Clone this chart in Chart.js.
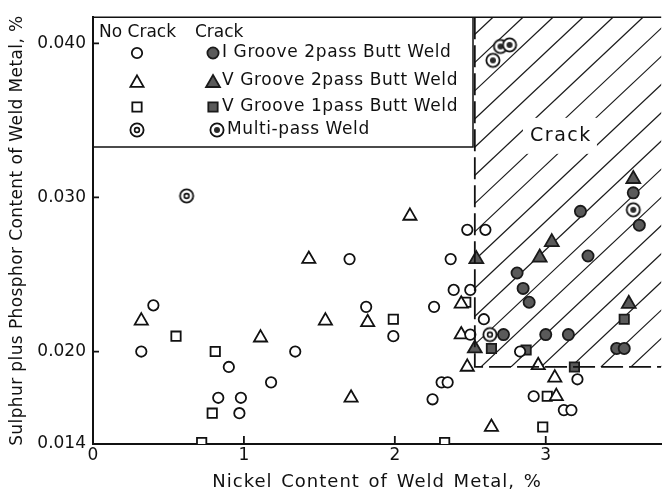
<!DOCTYPE html>
<html>
<head>
<meta charset="utf-8">
<script src="https://cdn.jsdelivr.net/npm/chart.js@4/dist/chart.umd.min.js"></script>
<style>
  html, body { margin: 0; padding: 0; background: #fff; }
  #wrap { width: 671px; height: 501px; }
</style>
</head>
<body>
<div id="wrap"><canvas id="chart" width="671" height="501"></canvas></div>
<script>
// [Ni %, S+P %]
const noCrackIGroove = [
  [0.40, 0.0230], [0.32, 0.0200], [0.90, 0.0190], [1.18, 0.0180], [0.83, 0.0170],
  [0.98, 0.0170], [0.97, 0.0160], [2.48, 0.0279], [2.60, 0.0279], [1.70, 0.0260],
  [2.37, 0.0260], [2.39, 0.0240], [2.50, 0.0240], [2.26, 0.0229], [1.81, 0.0229],
  [1.99, 0.0210], [1.34, 0.0200], [2.59, 0.0221], [2.50, 0.0211], [2.83, 0.0200],
  [2.31, 0.0180], [2.35, 0.0180], [2.25, 0.0169], [3.21, 0.0182], [2.92, 0.0171],
  [3.12, 0.0162], [3.17, 0.0162]
];
const noCrackV2pass = [
  [0.32, 0.0220], [1.11, 0.0209], [2.10, 0.0288], [1.43, 0.0260], [2.44, 0.0231],
  [1.82, 0.0219], [1.54, 0.0220], [1.71, 0.0170], [2.44, 0.0211], [2.48, 0.0190],
  [2.95, 0.0191], [3.06, 0.0183], [3.07, 0.0171], [2.64, 0.0151]
];
const noCrackV1pass = [
  [0.55, 0.0210], [0.81, 0.0200], [0.79, 0.0160], [0.72, 0.0141], [1.99, 0.0221],
  [2.47, 0.0232], [3.01, 0.0171], [2.98, 0.0151], [2.33, 0.0141]
];
const noCrackMulti = [[0.62, 0.0301], [2.63, 0.0211]];

const crackIGroove = [
  [2.72, 0.0211], [3.00, 0.0211], [3.15, 0.0211], [2.89, 0.0232], [3.47, 0.0202],
  [3.52, 0.0202], [3.58, 0.0303], [3.62, 0.0282], [3.23, 0.0291], [3.28, 0.0262],
  [2.81, 0.0251], [2.85, 0.0241]
];
const crackV2pass = [
  [2.54, 0.0260], [3.04, 0.0271], [2.96, 0.0261], [3.58, 0.0312], [3.55, 0.0231], [2.53, 0.0202]
];
const crackV1pass = [[2.64, 0.0202], [2.87, 0.0201], [3.52, 0.0221], [3.19, 0.0190]];
const crackMulti = [[3.58, 0.0292], [2.65, 0.0389], [2.70, 0.0398], [2.76, 0.0399]];

// crack region boundary
const crackNi = 2.53;
const crackSP = 0.019;

const xTicks = [0, 1, 2, 3];
const yTicks = [0.014, 0.020, 0.030, 0.040];
const xRange = [0, 3.765];
const yRange = [0.014, 0.0417];

const legendRows = ['I Groove 2pass Butt Weld', 'V Groove 2pass Butt Weld', 'V Groove 1pass Butt Weld', 'Multi-pass Weld'];

const FONT = 'DejaVu Sans';
const INK = '#111';
const GREY = '#5a5a5a';

function ringIcon(filled) {
  const c = document.createElement('canvas');
  c.width = c.height = 18;
  const g = c.getContext('2d');
  g.strokeStyle = INK;
  g.fillStyle = '#fff';
  g.lineWidth = 1.8;
  g.beginPath(); g.arc(9, 9, 6.6, 0, Math.PI * 2); g.fill(); g.stroke();
  g.beginPath();
  if (filled) {
    g.fillStyle = '#2a2a2a';
    g.arc(9, 9, 3, 0, Math.PI * 2); g.fill();
  } else {
    g.lineWidth = 1.6;
    g.arc(9, 9, 2.4, 0, Math.PI * 2); g.stroke();
  }
  return c;
}
const openRing = ringIcon(false);
const fullRing = ringIcon(true);

const toXY = arr => arr.map(([x, y]) => ({ x, y }));

function pts(data, style, radius, filled) {
  return {
    type: 'scatter',
    data: toXY(data),
    pointStyle: style,
    pointRadius: radius,
    pointHoverRadius: radius,
    pointBorderWidth: 1.8,
    pointBorderColor: filled ? '#1a1a1a' : INK,
    pointBackgroundColor: filled ? GREY : '#fff',
    clip: 0,
  };
}

function drawMark(ctx, style, x, y, r, filled) {
  ctx.save();
  ctx.lineWidth = 1.8;
  ctx.strokeStyle = filled ? '#1a1a1a' : INK;
  ctx.fillStyle = filled ? GREY : '#fff';
  ctx.beginPath();
  if (style === 'circle') {
    ctx.arc(x, y, r, 0, Math.PI * 2);
  } else if (style === 'triangle') {
    for (let i = 0; i < 3; i++) {
      const a = i * 2 * Math.PI / 3;
      const px = x + Math.sin(a) * r, py = y - Math.cos(a) * r;
      i ? ctx.lineTo(px, py) : ctx.moveTo(px, py);
    }
    ctx.closePath();
  } else if (style === 'rect') {
    const s = r * Math.SQRT1_2;
    ctx.rect(x - s, y - s, 2 * s, 2 * s);
  }
  ctx.fill(); ctx.stroke();
  ctx.restore();
}

// the printed figure uses loosely spaced lettering for the axis titles
function spaced(fn, letter, word) {
  return function () {
    const c = this.ctx;
    c.save();
    c.letterSpacing = letter;
    c.wordSpacing = word;
    fn.apply(this, arguments);
    c.restore();
  };
}

const decor = {
  id: 'decor',
  beforeDraw(chart) {
    const { x, y } = chart.scales;
    if (!x.__spaced) { x.drawTitle = spaced(x.drawTitle, '1px', '2px'); x.__spaced = true; }
    if (!y.__spaced) { y.drawTitle = spaced(y.drawTitle, '0.4px', '0px'); y.__spaced = true; }
  },
  beforeDatasetsDraw(chart) {
    const { ctx, chartArea: a, scales: { x, y } } = chart;
    const bx = x.getPixelForValue(crackNi);
    const by = y.getPixelForValue(crackSP);

    // hatching of the crack region
    ctx.save();
    ctx.beginPath();
    ctx.rect(bx, a.top, a.right - bx, by - a.top);
    ctx.clip();
    ctx.strokeStyle = '#1a1a1a';
    ctx.lineWidth = 1.2;
    const h = by - a.top, run = h / 0.94;
    for (let sx = 493 - 600; sx < a.right + run + 30; sx += 30) {
      ctx.beginPath();
      ctx.moveTo(sx, a.top);
      ctx.lineTo(sx - run, by);
      ctx.stroke();
    }
    ctx.restore();

    // "Crack" label on a white patch
    ctx.save();
    const cx = x.getPixelForValue(3.094), cy = y.getPixelForValue(0.0340);
    ctx.fillStyle = '#fff';
    ctx.fillRect(cx - 37, cy - 18, 74, 36);
    ctx.fillStyle = INK;
    ctx.font = `19px "${FONT}"`;
    ctx.letterSpacing = '1.5px';
    ctx.textAlign = 'center';
    ctx.textBaseline = 'middle';
    ctx.fillText('Crack', cx + 1, cy);
    ctx.restore();

    // legend box
    ctx.save();
    ctx.fillStyle = '#fff';
    ctx.fillRect(a.left + 1, a.top, 473 - a.left - 1, 147 - a.top);
    ctx.strokeStyle = INK;
    ctx.lineWidth = 1.5;
    ctx.beginPath();
    ctx.moveTo(473, a.top);
    ctx.lineTo(473, 147);
    ctx.lineTo(a.left, 147);
    ctx.stroke();

    ctx.fillStyle = INK;
    ctx.font = `17px "${FONT}"`;
    ctx.textBaseline = 'middle';
    ctx.fillText('No Crack', 99, 33);
    ctx.fillText('Crack', 195, 33);

    const rows = [53, 81, 107, 130];
    drawMark(ctx, 'circle', 137, rows[0], 5.2, false);
    drawMark(ctx, 'triangle', 137, rows[1] + 2, 7.6, false);
    drawMark(ctx, 'rect', 137, rows[2], 6.6, false);
    ctx.drawImage(openRing, 137 - 9, rows[3] - 9);

    drawMark(ctx, 'circle', 213, rows[0], 5.6, true);
    drawMark(ctx, 'triangle', 213, rows[1] + 2, 8, true);
    drawMark(ctx, 'rect', 213, rows[2], 6.6, true);
    ctx.drawImage(fullRing, 217 - 9, rows[3] - 9);

    ctx.fillStyle = INK;
    ctx.letterSpacing = '0.6px';
    ctx.fillText(legendRows[0], 222, rows[0]);
    ctx.fillText(legendRows[1], 222, rows[1]);
    ctx.fillText(legendRows[2], 222, rows[2]);
    ctx.fillText(legendRows[3], 227, rows[3]);
    ctx.restore();
  },
  afterDatasetsDraw(chart) {
    const { ctx, chartArea: a, scales: { x, y } } = chart;
    ctx.save();
    ctx.strokeStyle = INK;
    ctx.lineWidth = 1.8;
    ctx.beginPath();
    xTicks.slice(1).forEach(v => {
      const px = x.getPixelForValue(v);
      ctx.moveTo(px, a.bottom);
      ctx.lineTo(px, a.bottom - 8);
    });
    yTicks.slice(1).forEach(v => {
      const py = y.getPixelForValue(v);
      ctx.moveTo(a.left, py);
      ctx.lineTo(a.left + 6, py);
    });
    ctx.stroke();
    // top frame line
    ctx.lineWidth = 1.5;
    ctx.beginPath();
    ctx.moveTo(a.left, a.top);
    ctx.lineTo(a.right, a.top);
    ctx.stroke();
    ctx.restore();
  }
};

new Chart(document.getElementById('chart'), {
  type: 'scatter',
  data: {
    datasets: [
      {
        type: 'line',
        data: [{ x: crackNi, y: yRange[1] }, { x: crackNi, y: crackSP }, { x: xRange[1], y: crackSP }],
        borderColor: INK,
        borderWidth: 1.8,
        borderDash: [22, 6],
        pointRadius: 0,
        fill: false,
        tension: 0,
        clip: 0,
      },
      pts(noCrackIGroove, 'circle', 5.2, false),
      pts(noCrackV2pass, 'triangle', 7.6, false),
      pts(noCrackV1pass, 'rect', 6.6, false),
      pts(noCrackMulti, openRing, 7, false),
      pts(crackIGroove, 'circle', 5.6, true),
      pts(crackV2pass, 'triangle', 8, true),
      pts(crackV1pass, 'rect', 6.6, true),
      pts(crackMulti, fullRing, 7, true),
    ],
  },
  options: {
    responsive: false,
    animation: false,
    devicePixelRatio: 1,
    layout: { padding: { top: 11, right: 0, left: 0, bottom: 0 } },
    plugins: { legend: { display: false }, tooltip: { enabled: false } },
    scales: {
      x: {
        type: 'linear',
        min: xRange[0],
        max: xRange[1],
        afterBuildTicks: s => { s.ticks = xTicks.map(v => ({ value: v })); },
        afterFit: s => { s.height = 57; },
        grid: { display: false, drawTicks: false },
        border: { display: true, color: INK, width: 2 },
        ticks: { color: INK, padding: 1, font: { family: FONT, size: 17 }, callback: v => String(v) },
        title: {
          display: true,
          text: 'Nickel Content of Weld Metal, %',
          color: INK,
          font: { family: FONT, size: 18 },
          padding: { top: 0, bottom: 8 },
        },
      },
      y: {
        type: 'linear',
        min: yRange[0],
        max: yRange[1],
        afterBuildTicks: s => { s.ticks = yTicks.map(v => ({ value: v })); },
        afterFit: s => { s.width = 93; },
        grid: { display: false, drawTicks: false },
        border: { display: true, color: INK, width: 2 },
        ticks: { color: INK, padding: 7, font: { family: FONT, size: 17 }, callback: v => v.toFixed(3) },
        title: {
          display: true,
          text: 'Sulphur plus Phosphor Content of Weld Metal, %',
          color: INK,
          font: { family: FONT, size: 17 },
          padding: { top: 7, bottom: 0 },
        },
      },
    },
  },
  plugins: [decor],
});
</script>
</body>
</html>
